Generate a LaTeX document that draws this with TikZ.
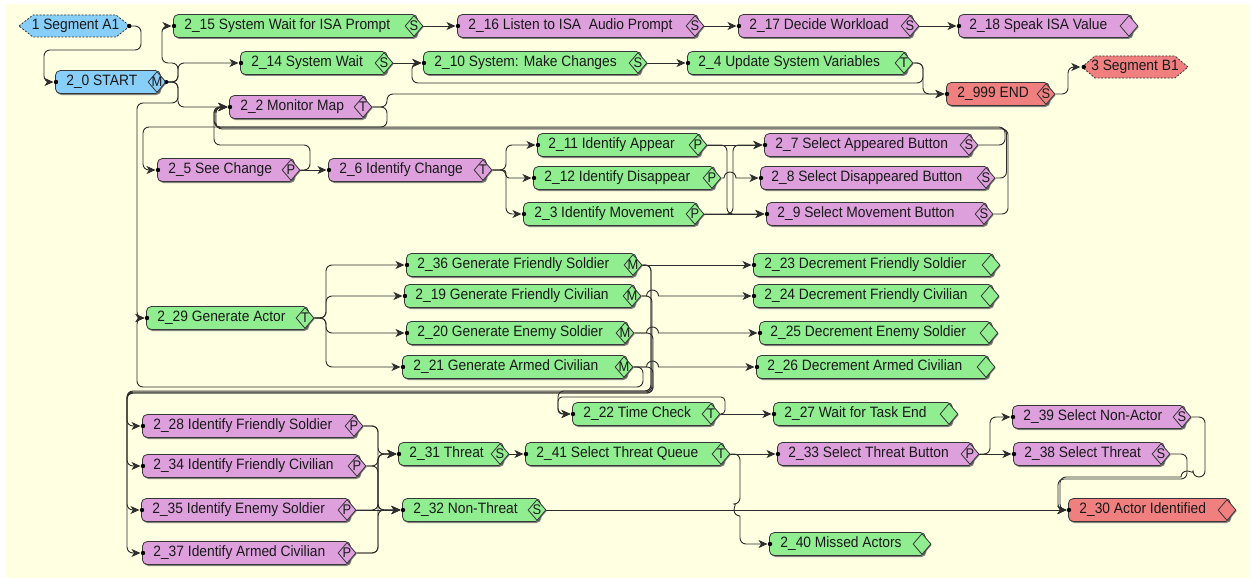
\documentclass[tikz,border=0pt]{standalone}
\usepackage{fontspec}
\setmainfont{Liberation Sans}[FakeStretch=0.92]
\usetikzlibrary{arrows.meta,shapes.geometric,shadows}
\pgfdeclarelayer{backdrop}
\pgfdeclarelayer{wires}
\pgfsetlayers{backdrop,wires,main}

\definecolor{bgyel}{RGB}{255,255,226}
\definecolor{tgreen}{RGB}{144,238,144}
\definecolor{tplum}{RGB}{221,160,221}
\definecolor{tblue}{RGB}{135,206,250}
\definecolor{tred}{RGB}{240,128,128}
\definecolor{edgecol}{RGB}{55,55,55}
\definecolor{wirecol}{RGB}{45,45,45}

\newcommand\tasksize{\fontsize{15}{17}\selectfont}
\newcommand\portsize{\fontsize{14}{14}\selectfont}

\tikzset{
  taskbox/.style={draw=edgecol, line width=0.8pt, rounded corners=5pt,
    minimum height=23pt, inner xsep=11pt, inner ysep=0pt, font=\tasksize,
    text=black!90,
    drop shadow={shadow xshift=1pt, shadow yshift=-1.5pt, fill=black!60, opacity=0.8}},
  portbox/.style={diamond, draw=edgecol, line width=0.8pt, minimum width=18pt,
    minimum height=21pt, inner sep=0pt, font=\portsize, text=black!90,
    drop shadow={shadow xshift=0.8pt, shadow yshift=-1pt, fill=black!60, opacity=0.8}},
  segtext/.style={inner sep=0pt, minimum height=22pt, font=\tasksize, text=black!90},
  segline/.style={draw=edgecol, line width=0.8pt, dash pattern=on 2pt off 1.5pt},
  wire/.style={draw=wirecol, line width=0.9pt, rounded corners=6pt,
    -{Stealth[length=9pt,width=8pt,inset=2.5pt]}, shorten >=1.5pt},
  pin/.style={fill=black}
}

% #1 name, #2 left edge, #3 port centre x, #4 centre y, #5 fill, #6 port letter, #7 label
\newcommand\tasknode[7]{%
  \pgfmathsetmacro\tkw{#3+3-(#2)-22}%
  \node[taskbox, fill=#5, anchor=west] (#1) at (#2,#4) {\makebox[\tkw pt][l]{#7}};
  \node[portbox, fill=#5] (#1p) at (#3,#4) {\makebox[0pt]{#6}};
  \fill[pin] ([xshift=1pt]#1.west) circle[radius=2.2pt];
}

\begin{document}
\begin{tikzpicture}[x=1pt,y=-1pt]
\useasboundingbox (0,0) rectangle (1250,578);
\begin{pgfonlayer}{backdrop}
  \fill[white] (0,0) rectangle (1250,578);
  \fill[bgyel] (5,4) rectangle (1250,578);
\end{pgfonlayer}

% segment markers
\filldraw[segline, fill=tblue] (19,26) -- (33,15) -- (116,15) -- (130,26) -- (116,37) -- (33,37) -- cycle;
\node[segtext, minimum width=111pt] (sA) at (75.5,26) {1 Segment A1};
\filldraw[segline, fill=tred] (1082,67) -- (1095,56) -- (1175,56) -- (1188,67) -- (1175,78) -- (1095,78) -- cycle;
\node[segtext, minimum width=106pt] (sB) at (1135,67) {3 Segment B1};

% tasks
\tasknode{t20}{55}{157}{82}{tblue}{M}{2\_0 START}
\tasknode{t215}{173}{414}{26}{tgreen}{S}{2\_15 System Wait for ISA Prompt}
\tasknode{t216}{457}{695}{26}{tplum}{S}{2\_16 Listen to ISA\ \ Audio Prompt}
\tasknode{t217}{738}{910}{26}{tplum}{S}{2\_17 Decide Workload}
\tasknode{t218}{958}{1129}{26}{tplum}{}{2\_18 Speak ISA Value}
\tasknode{t214}{240}{384}{63}{tgreen}{S}{2\_14 System Wait}
\tasknode{t210}{423}{638}{63}{tgreen}{S}{2\_10 System: Make Changes}
\tasknode{t24}{687}{904}{63}{tgreen}{T}{2\_4 Update System Variables}
\tasknode{t2999}{946}{1046}{94}{tred}{S}{2\_999 END}
\tasknode{t22}{229}{363}{107}{tplum}{T}{2\_2 Monitor Map}
\tasknode{t25}{157}{291}{170}{tplum}{P}{2\_5 See Change}
\tasknode{t26}{328}{483}{170}{tplum}{T}{2\_6 Identify Change}
\tasknode{t211}{537}{698}{145}{tgreen}{P}{2\_11 Identify Appear}
\tasknode{t212}{533}{712}{178}{tgreen}{P}{2\_12 Identify Disappear}
\tasknode{t23}{523}{695}{214}{tgreen}{P}{2\_3 Identify Movement}
\tasknode{t27}{764}{969}{145}{tplum}{S}{2\_7 Select Appeared Button}
\tasknode{t28}{760}{986}{178}{tplum}{S}{2\_8 Select Disappeared Button}
\tasknode{t29}{766}{984}{214}{tplum}{S}{2\_9 Select Movement Button}
\tasknode{t229}{146}{305}{318}{tgreen}{T}{2\_29 Generate Actor}
\tasknode{t236}{406}{633}{265}{tgreen}{M}{2\_36 Generate Friendly Soldier}
\tasknode{t219}{404}{632}{296}{tgreen}{M}{2\_19 Generate Friendly Civilian}
\tasknode{t220}{406}{625}{333}{tgreen}{M}{2\_20 Generate Enemy Soldier}
\tasknode{t221}{402}{624}{367}{tgreen}{M}{2\_21 Generate Armed Civilian}
\tasknode{t223}{753}{991}{265}{tgreen}{}{2\_23 Decrement Friendly Soldier}
\tasknode{t224}{753}{990}{296}{tgreen}{}{2\_24 Decrement Friendly Civilian}
\tasknode{t225}{759}{989}{333}{tgreen}{}{2\_25 Decrement Enemy Soldier}
\tasknode{t226}{756}{986}{367}{tgreen}{}{2\_26 Decrement Armed Civilian}
\tasknode{t222}{572}{711}{414}{tgreen}{T}{2\_22 Time Check}
\tasknode{t227}{773}{949}{414}{tgreen}{}{2\_27 Wait for Task End}
\tasknode{t228}{142}{354}{426}{tplum}{P}{2\_28 Identify Friendly Soldier}
\tasknode{t234}{142}{357}{466}{tplum}{P}{2\_34 Identify Friendly Civilian}
\tasknode{t235}{141}{347}{510}{tplum}{P}{2\_35 Identify Enemy Soldier}
\tasknode{t237}{142}{347}{553}{tplum}{P}{2\_37 Identify Armed Civilian}
\tasknode{t231}{398}{500}{454}{tgreen}{S}{2\_31 Threat}
\tasknode{t232}{402}{537}{510}{tgreen}{S}{2\_32 Non-Threat}
\tasknode{t241}{525}{721}{454}{tgreen}{T}{2\_41 Select Threat Queue}
\tasknode{t233}{777}{970}{454}{tplum}{P}{2\_33 Select Threat Button}
\tasknode{t240}{769}{922}{544}{tgreen}{}{2\_40 Missed Actors}
\tasknode{t239}{1012}{1182}{417}{tplum}{S}{2\_39 Select Non-Actor}
\tasknode{t238}{1013}{1161}{454}{tplum}{S}{2\_38 Select Threat}
\tasknode{t230}{1068}{1227}{510}{tred}{}{2\_30 Actor Identified}

% output and input pins of the segment markers
\fill[pin] ([xshift=-2pt]sA.east) circle[radius=2.2pt];
\fill[pin] (t20p.east) circle[radius=2pt];
\fill[pin] ([xshift=2pt]sB.west) circle[radius=2.2pt];

\begin{pgfonlayer}{wires}
% start-up
\draw[wire] (sA.east) -- (141,26) -- (141,50) -- (44,50) -- (44,82) -- (t20.west);
\draw[wire] (t20p.east) -- (178,82) -- (178,63) -- (162,63) -- (162,26) -- (t215.west);
\draw[wire] (t20p.east) -- (178,82) -- (178,63) -- (t214.west);
\draw[wire] (t20p.east) -- (178,82) -- (178,107) -- (t22.west);
\draw[wire] (t20p.east) -- (178,82) -- (178,103) -- (137,103) -- (137,318) [sharp corners] -- (t229.west);

% ISA prompt chain and system loop
\draw[wire] (t215p.east) -- (t216.west);
\draw[wire] (t216p.east) -- (t217.west);
\draw[wire] (t217p.east) -- (t218.west);
\draw[wire] (t214p.east) -- (t210.west);
\draw[wire] (t210p.east) -- (t24.west);
\draw[wire] (t24p.east) -- (923,63) -- (923,83) -- (412,83) -- (412,63) -- (t210.west);
\draw[wire] (t24p.east) -- (923,63) -- (923,94) -- (t2999.west);
\draw[wire] (t22p.east) -- (387,107) -- (387,94) -- (t2999.west);
\draw[wire] (t2999p.east) -- (1068,94) -- (1068,67) -- (sB.west);

% map monitoring loop
\draw[wire] (t22p.east) -- (387,107) -- (387,127) -- (143,127) -- (143,170) -- (t25.west);
\draw[wire] (t25p.east) -- (t26.west);
\draw[wire] (t25p.east) -- (310,170) -- (310,145) -- (214,145) -- (214,107) -- (t22.west);
\draw[wire] (t27p.east) -- (1005,145) -- (1005,127) -- (214,127) -- (214,107) -- (t22.west);
\draw[wire] (t28p.east) -- (1006.5,178) -- (1006.5,128) -- (215,128) -- (215,107) -- (t22.west);
\draw[wire] (t29p.east) -- (1008,214) -- (1008,129) -- (216,129) -- (216,107) -- (t22.west);

% change identification
\draw[wire] (t26p.east) -- (506,170) -- (506,145) -- (t211.west);
\draw[wire, rounded corners=3pt] (t26p.east) -- (506,170) -- (506,178) -- (t212.west);
\draw[wire] (t26p.east) -- (506,170) -- (506,214) -- (t23.west);
\draw[wire] (t211p.east) -- (t27.west);
\draw[wire] (t211p.east) -- (727,145) -- (727,214) -- (t29.west);
\draw[wire] (t23p.east) -- (733,214) -- (733,145) -- (t27.west);
\draw[wire] (t23p.east) -- (t29.west);
\draw[wire, sharp corners] (t212p.east) -- (724,178) arc[start angle=180, end angle=0, radius=6pt] -- (t28.west);

% actor generation
\draw[wire] (t229p.east) -- (326,318) -- (326,265) -- (t236.west);
\draw[wire] (t229p.east) -- (326,318) -- (326,296) -- (t219.west);
\draw[wire] (t229p.east) -- (326,318) -- (326,333) -- (t220.west);
\draw[wire] (t229p.east) -- (326,318) -- (326,367) -- (t221.west);
\draw[wire] (t236p.east) -- (t223.west);
\draw[wire, sharp corners] (t219p.east) -- (646.5,296) arc[start angle=180, end angle=0, radius=6pt] -- (t224.west);
\draw[wire, sharp corners] (t220p.east) -- (646.5,333) arc[start angle=180, end angle=0, radius=6pt] -- (t225.west);
\draw[wire, sharp corners] (t221p.east) -- (646.5,367) arc[start angle=180, end angle=0, radius=6pt] -- (t226.west);
\draw[wire] (t236p.east) -- (651,265) -- (651,391) -- (127,391) -- (127,426) [sharp corners] -- (t228.west);
\draw[wire] (t219p.east) -- (652,296) -- (652,392) -- (127,392) -- (127,466) [sharp corners] -- (t234.west);
\draw[wire] (t220p.east) -- (653,333) -- (653,393) -- (127,393) -- (127,510) [sharp corners] -- (t235.west);
\draw[wire] (t221p.east) -- (653,367) -- (653,393) -- (127,393) -- (127,553) -- (t237.west);
\draw[wire] (t236p.east) -- (651,265) -- (651,391) -- (558,391) -- (558,414) -- (t222.west);
\draw[wire] (t221p.east) -- (643,367) -- (643,387) -- (137,387) -- (137,318) [sharp corners] -- (t229.west);
\draw[wire, rounded corners=4pt] (t222p.east) -- (725,414) -- (725,397) -- (558,397) -- (558,414) -- (t222.west);
\draw[wire] (t222p.east) -- (t227.west);

% threat classification
\draw[wire] (t228p.east) -- (378,426) -- (378,454) -- (t231.west);
\draw[wire] (t228p.east) -- (378,426) -- (378,510) -- (t232.west);
\draw[wire] (t234p.east) -- (378,466) -- (378,454) -- (t231.west);
\draw[wire] (t234p.east) -- (378,466) -- (378,510) -- (t232.west);
\draw[wire] (t235p.east) -- (378,510) -- (378,454) -- (t231.west);
\draw[wire] (t235p.east) -- (t232.west);
\draw[wire] (t237p.east) -- (378,553) -- (378,510) -- (t232.west);
\draw[wire] (t237p.east) -- (378,553) -- (378,454) -- (t231.west);
\draw[wire] (t231p.east) -- (t241.west);
\draw[wire] (t241p.east) -- (t233.west);
\draw[wire] (t241p.east) -- (740,454) -- (740,504) [sharp corners] arc[start angle=90, end angle=270, radius=6pt] -- (740,538) [rounded corners=6pt] -- (740,544) -- (t240.west);
\draw[wire] (t232p.east) -- (t230.west);
\draw[wire] (t233p.east) -- (t238.west);
\draw[wire] (t233p.east) -- (990,454) -- (990,417) -- (t239.west);
\draw[wire] (t239p.east) -- (1205,417) -- (1205,477) -- (1193,477) [sharp corners] arc[start angle=0, end angle=180, radius=6pt] -- (1070,477) [rounded corners=6pt] -- (1060,477) -- (1060,510) [sharp corners] -- (t230.west);
\draw[wire] (t238p.east) -- (1187,454) -- (1187,479) -- (1058,479) -- (1058,510) [sharp corners] -- (t230.west);
\end{pgfonlayer}
\end{tikzpicture}
\end{document}
